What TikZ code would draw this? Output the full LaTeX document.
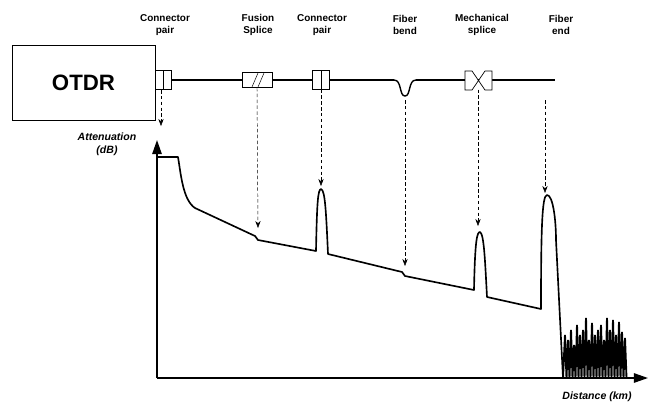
\documentclass[tikz,border=0pt]{standalone}
\usepackage{fontspec}
\setmainfont{Liberation Sans}
\usetikzlibrary{arrows.meta,positioning,patterns}
\begin{document}
\begin{tikzpicture}[x=0.03cm,y=-0.03cm,
    lbl/.style={font=\fontsize{8.5}{10.5}\selectfont\bfseries,align=center},
    part/.style={draw,fill=white,line width=0.6pt,minimum height=0.55cm,inner sep=0pt},
    drop/.style={densely dashed,line width=0.4pt,-{Stealth[length=6pt]}},
    trace/.style={line width=1.4pt,line join=round}]
  \useasboundingbox (0,0) rectangle (664,409);
  % instrument and fibre
  \node[draw,line width=0.6pt,minimum width=4.29cm,minimum height=2.25cm,font=\fontsize{19}{22}\selectfont\bfseries] (otdr) at (83.5,82.5) {OTDR};
  \draw[line width=1.2pt] (170,80) -- (555,80);
  \draw[line width=1.2pt,fill=white,draw=white] (395,78) rectangle (415,82);
  \draw[line width=1.2pt] (394,80) .. controls (402,80) and (399,96) .. (405,96) .. controls (411,96) and (408,80) .. (416,80);
  % components
  \node[part,minimum width=0.5cm] (con1) at (163.5,80) {};
  \draw (163,71) -- (163,90);
  \node[part,minimum width=0.9cm,minimum height=0.45cm] (fus) at (257,80) {};
  \draw (252,87) -- (258,73) (258,87) -- (264,73);
  \node[part,minimum width=0.5cm] (con2) at (321,80) {};
  \draw (321,71) -- (321,90);
  \node[part,minimum width=0.8cm,draw=none,fill=none] (mech) at (478,80) {};
  \draw[line width=0.6pt,fill=white] (465,71) -- (472,71) -- (485,90) -- (492,90) -- (492,71) -- (485,71) -- (472,90) -- (465,90) -- cycle;
  \coordinate (bend) at (405,100);
  \coordinate (fend) at (545,100);
  % labels
  \node[lbl] at (165,25) {Connector\\pair};
  \node[lbl] at (258,25) {Fusion\\Splice};
  \node[lbl] at (322,25) {Connector\\pair};
  \node[lbl] at (405,25) {Fiber\\bend};
  \node[lbl] at (482,25) {Mechanical\\splice};
  \node[lbl] at (561,25) {Fiber\\end};
  % axes
  \coordinate (o) at (157,378);
  \draw[line width=1.4pt,-{Triangle[length=12pt,width=8pt]}] (o) -- (157,140);
  \draw[line width=1.4pt,-{Triangle[length=12pt,width=8pt]}] (o) -- (648,378);
  \node[font=\small\bfseries\itshape,align=center] at (107,144) {Attenuation\\(dB)};
  \node[font=\small\bfseries\itshape] at (597,397) {Distance (km)};
  % trace
  \draw[trace] (157,157) -- (178,157) .. controls (181,175) and (183,200) .. (195,208)
    -- (255,236) -- (258,240) -- (316,251) .. controls (317,200) and (318,190) .. (321,189)
    .. controls (325,190) and (326,210) .. (328,254) -- (402,272) -- (405,276) -- (474,290)
    .. controls (475,240) and (477,232) .. (480,232) .. controls (484,234) and (485,260) .. (487,297)
    -- (541,309) .. controls (541,230) and (542,195) .. (547,195)
    .. controls (553,195) and (556,220) .. (556,240) -- (563,378);
  \draw[line width=1.6pt] (563,378)
    \foreach \h/\xx in {335/565,340/568,330/571,345/574,325/577,335/580,330/583,318/586,
      340/589,323/592,335/595,330/598,325/601,340/604,318/607,330/610,320/613,335/616,322/619,332/622,338/625}
      { -- (\xx,\h) -- (\xx+1.5,378) };
  % markers
  \draw[drop] (161,90) -- (161,126);
  \draw[drop] (fus.south) -- (258,228);
  \draw[drop] (con2.south) -- (321,186);
  \draw[drop] (bend) -- (405,266);
  \draw[drop] (mech.south) -- (478,226);
  \draw[drop] (fend) -- (545,193);
\end{tikzpicture}
\end{document}
